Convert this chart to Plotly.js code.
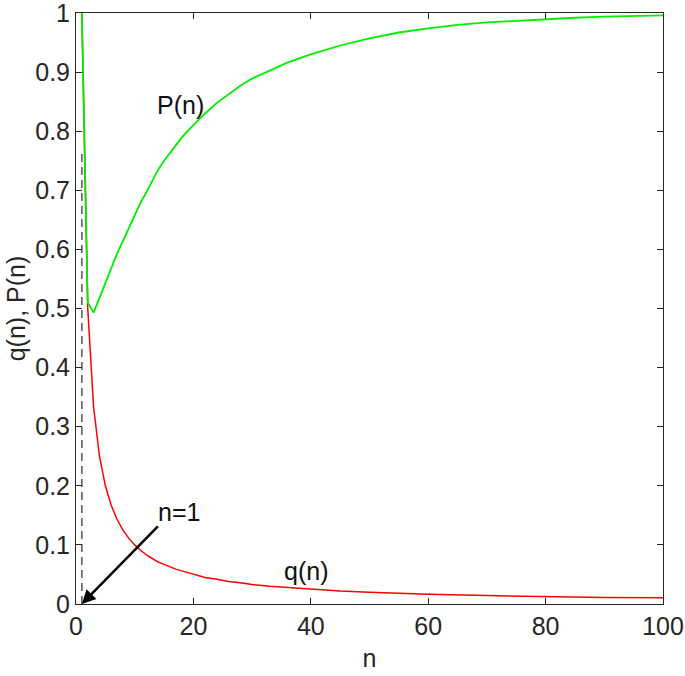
<!DOCTYPE html>
<html>
<head>
<meta charset="utf-8">
<script src="https://cdn.plot.ly/plotly-3.0.1.min.js"></script>
<style>html,body{margin:0;padding:0;background:#fff;}#plot{width:685px;height:676px;}</style>
</head>
<body>
<div id="plot"></div>
<script>
// q(n)
const qN = [1, 2, 3, 4, 5, 6, 7, 8, 9, 10, 11, 12, 13, 14, 15, 16, 17, 18, 19, 20, 22, 24, 26, 28, 30, 33, 36, 40, 45, 50, 55, 60, 70, 80, 90, 100];
const qVal = [1.0, 0.5, 0.333, 0.25, 0.2, 0.167, 0.143, 0.125, 0.111, 0.1, 0.091, 0.083, 0.077, 0.071, 0.067, 0.0625, 0.059, 0.056, 0.053, 0.05, 0.045, 0.042, 0.038, 0.036, 0.033, 0.030, 0.028, 0.025, 0.022, 0.02, 0.018, 0.0167, 0.0143, 0.0125, 0.0111, 0.0104];
// P(n)
const pN = [1, 2, 3, 4, 5, 6, 7, 8, 9, 10, 11, 12, 13, 14, 15, 16, 17, 18, 19, 20, 22, 24, 26, 28, 30, 33, 36, 40, 45, 50, 55, 60, 65, 70, 75, 80, 85, 90, 95, 100];
const pVal = [1.0, 0.51, 0.493, 0.517, 0.543, 0.568, 0.593, 0.615, 0.638, 0.66, 0.679, 0.697, 0.716, 0.735, 0.75, 0.763, 0.777, 0.789, 0.8, 0.81, 0.83, 0.848, 0.863, 0.877, 0.889, 0.903, 0.916, 0.93, 0.945, 0.957, 0.967, 0.974, 0.98, 0.984, 0.987, 0.99, 0.992, 0.994, 0.995, 0.996];
// dashed marker at n = 1
const markN = [1, 1];
const markY = [0, 0.77];

const xTicks = [0, 20, 40, 60, 80, 100];
const yTicks = [0, 0.1, 0.2, 0.3, 0.4, 0.5, 0.6, 0.7, 0.8, 0.9, 1];
const yTickText = ['0', '0.1', '0.2', '0.3', '0.4', '0.5', '0.6', '0.7', '0.8', '0.9', '1'];

const font = 'Liberation Sans, Arial, Helvetica, sans-serif';
const ink = '#262626';

const traces = [
  {x: markN, y: markY, mode: 'lines', line: {color: '#555555', width: 1.5, dash: '8px,5px'}, hoverinfo: 'skip'},
  {x: qN, y: qVal, mode: 'lines', line: {color: '#ff0000', width: 1.5}},
  {x: pN, y: pVal, mode: 'lines', line: {color: '#00ee00', width: 1.8}}
];

const axisCommon = {
  showgrid: false, zeroline: false, showline: true, linecolor: ink, linewidth: 1,
  mirror: 'ticks', ticks: 'inside', ticklen: 6, tickcolor: ink,
  tickfont: {family: font, size: 25, color: ink}
};

const layout = {
  width: 685, height: 676,
  margin: {l: 76, r: 22, t: 13, b: 72},
  paper_bgcolor: '#fff', plot_bgcolor: '#fff',
  showlegend: false,
  xaxis: Object.assign({}, axisCommon, {
    range: [0, 100], tickmode: 'array', tickvals: xTicks, ticktext: xTicks.map(String),
    title: {text: 'n', font: {family: font, size: 25, color: ink}, standoff: 10}
  }),
  yaxis: Object.assign({}, axisCommon, {
    range: [0, 1], tickmode: 'array', tickvals: yTicks, ticktext: yTickText,
    ticklabeloverflow: 'allow',
    title: {text: 'q(n), P(n)', font: {family: font, size: 25, color: ink}, standoff: 2}
  }),
  annotations: [
    {x: 17.8, y: 0.845, xref: 'x', yref: 'y', text: 'P(n)', showarrow: false,
     font: {family: font, size: 25, color: '#111'}},
    {x: 39.1, y: 0.056, xref: 'x', yref: 'y', text: 'q(n)', showarrow: false,
     font: {family: font, size: 25, color: '#111'}},
    {x: 17.5, y: 0.156, xref: 'x', yref: 'y', text: 'n=1', showarrow: false,
     font: {family: font, size: 25, color: '#111'}},
    {x: 1, y: 0, xref: 'x', yref: 'y', ax: 14.2, ay: 0.134, axref: 'x', ayref: 'y',
     text: '', showarrow: true, arrowhead: 2, arrowsize: 1.1, arrowwidth: 2.5, arrowcolor: '#000'}
  ]
};

Plotly.newPlot('plot', traces, layout, {displayModeBar: false, staticPlot: true}).then(function (gd) {
  // if the top tick label was dropped for overflowing the paper, put it back as real text
  var labels = gd.querySelectorAll('.ytick text');
  var hasOne = Array.prototype.some.call(labels, function (t) { return t.textContent === '1'; });
  if (!hasOne) {
    Plotly.relayout(gd, {annotations: layout.annotations.concat([
      {x: 0, y: 1, xref: 'paper', yref: 'y', xanchor: 'right', yanchor: 'middle', xshift: -9,
       text: '1', showarrow: false, font: {family: font, size: 25, color: ink}}
    ])});
  }
});
</script>
</body>
</html>
